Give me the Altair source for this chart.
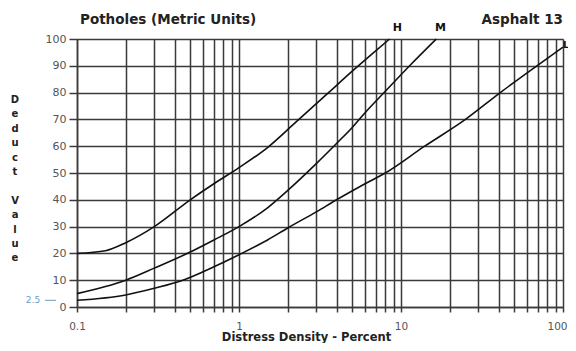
import altair as alt
import pandas as pd

# Curve readings (Distress Density %, Deduct Value)
h_density = [0.1, 0.15, 0.2, 0.3, 0.5, 0.7, 1, 1.5, 2.2, 3.5, 5, 6.5, 8.5]
h_deduct = [20, 21, 24, 30, 40, 46, 52, 59.5, 68.5, 79.5, 88, 94, 100]

m_density = [0.1, 0.2, 0.3, 0.5, 0.7, 1, 1.5, 2, 3, 4, 5, 6, 8, 11.5, 16.5]
m_deduct = [5, 10, 14.5, 20.5, 25, 30, 37, 43.5, 53.5, 61, 67, 72.5, 80.5, 90.5, 100]

l_density = [0.1, 0.2, 0.3, 0.45, 0.7, 1, 1.5, 2, 3, 4, 6, 8, 14, 25, 41, 69, 100]
l_deduct = [2.5, 4.5, 7, 10, 15, 19.5, 25, 29.5, 35.5, 40, 46, 50, 60, 70, 80, 90, 97]

x_grid_values = [0.1, 0.2, 0.3, 0.4, 0.5, 0.6, 0.7, 0.8, 0.9,
                 1, 2, 3, 4, 5, 6, 7, 8, 9,
                 10, 20, 30, 40, 50, 60, 70, 80, 90, 100]
y_grid_values = [0, 10, 20, 30, 40, 50, 60, 70, 80, 90, 100]

curve_names = ["H", "M", "L"]
label_density = [9.5, 17.5, 100]
label_deduct = [100, 100, 97]
ref_value = [2.5]

y_title_word1 = ["D", "e", "d", "u", "c", "t"]
y_title_word2 = ["V", "a", "l", "u", "e"]

rows = []
for name, xs, ys in (("H", h_density, h_deduct), ("M", m_density, m_deduct), ("L", l_density, l_deduct)):
    for a, b in zip(xs, ys):
        rows.append({"series": name, "density": a, "deduct": b})
df = pd.DataFrame(rows)

FONT = "DejaVu Sans"
GRID = "#3a3a3a"

x_scale = alt.Scale(type="log", domain=[0.1, 100], nice=False)
y_scale = alt.Scale(domain=[0, 100], nice=False)

x_axis = alt.Axis(values=x_grid_values,
                  labelExpr="(datum.value == 0.1 || datum.value == 1 || datum.value == 10 || datum.value == 100) ? datum.label : ''",
                  format="~g",
                  title="Distress Density - Percent",
                  titleFont=FONT, titleFontSize=11.5, titleFontWeight="bold", titleColor="#222",
                  titleX=229, titleY=30.5, titleBaseline="middle", titleAnchor="middle", titleAlign="center",
                  labelFont=FONT, labelFontSize=10.5, labelColor="#555", labelPadding=9,
                  labelOffset={"condition": {"test": "datum.value == 100", "value": -6}, "value": 0},
                  labelOverlap=False, labelFlush=False,
                  tickSize=5, tickColor=GRID, tickWidth=1.5,
                  grid=True, gridColor=GRID, gridWidth=1.5,
                  domainColor=GRID, domainWidth=1.5)

y_axis = alt.Axis(values=y_grid_values, title=None,
                  labelFont=FONT, labelFontSize=11, labelColor="#555", labelPadding=3,
                  labelOverlap=False,
                  tickSize=8, tickColor=GRID, tickWidth=1.5,
                  grid=True, gridColor=GRID, gridWidth=1.5,
                  domainColor=GRID, domainWidth=1.5)

lines = alt.Chart(df).mark_line(color="#111111", strokeWidth=1.6, interpolate="monotone").encode(
    x=alt.X("density:Q", scale=x_scale, axis=x_axis),
    y=alt.Y("deduct:Q", scale=y_scale, axis=y_axis),
    detail="series:N",
)

lab_df = pd.DataFrame({"series": curve_names, "density": label_density, "deduct": label_deduct})

top_labels = alt.Chart(lab_df).transform_filter("datum.series != 'L'").mark_text(
    font=FONT, fontSize=11, fontWeight="bold", color="#111", dy=-11
).encode(x=alt.X("density:Q", scale=x_scale, axis=x_axis),
         y=alt.Y("deduct:Q", scale=y_scale, axis=y_axis), text="series:N")

side_label = alt.Chart(lab_df).transform_filter("datum.series == 'L'").mark_text(
    font=FONT, fontSize=9.5, fontWeight="bold", color="#111", align="left", dx=0, dy=-2
).encode(x=alt.X("density:Q", scale=x_scale, axis=x_axis),
         y=alt.Y("deduct:Q", scale=y_scale, axis=y_axis), text="series:N")

one = pd.DataFrame({"a": [0]})
ref_df = pd.DataFrame({"deduct": ref_value})

title_left = alt.Chart(one).mark_text(
    text="Potholes (Metric Units)", font=FONT, fontSize=13.5, fontWeight="bold", color="#222",
    align="left", baseline="middle"
).encode(x=alt.value(3), y=alt.value(-19))

title_right = alt.Chart(one).mark_text(
    text="Asphalt 13", font=FONT, fontSize=13.5, fontWeight="bold", color="#222",
    align="right", baseline="middle"
).encode(x=alt.value(486), y=alt.value(-19))

ytitle1 = alt.Chart(one).mark_text(
    text=y_title_word1, font=FONT, fontSize=10, fontWeight="bold", color="#222",
    align="center", baseline="top", lineHeight=14.4
).encode(x=alt.value(-62), y=alt.value(56))

ytitle2 = alt.Chart(one).mark_text(
    text=y_title_word2, font=FONT, fontSize=10, fontWeight="bold", color="#222",
    align="center", baseline="top", lineHeight=14.4
).encode(x=alt.value(-62), y=alt.value(56 + 7 * 14.4))

ref_text = alt.Chart(ref_df).mark_text(
    text="2.5", font=FONT, fontSize=9, color="#6d9cc5", align="center", baseline="middle"
).encode(x=alt.value(-44), y=alt.Y("deduct:Q", scale=y_scale, axis=y_axis))

ref_rule = alt.Chart(ref_df).mark_rule(color="#6d9cc5", strokeWidth=1).encode(
    x=alt.value(-32), x2=alt.value(-21), y=alt.Y("deduct:Q", scale=y_scale, axis=y_axis)
)

chart = alt.layer(lines, top_labels, side_label, title_left, title_right,
                  ytitle1, ytitle2, ref_text, ref_rule).properties(
    width=486, height=268,
    autosize=alt.AutoSizeParams(type="none"),
    padding={"left": 69, "top": 31, "right": 5, "bottom": 36},
).configure_view(stroke=GRID, strokeWidth=1.5).configure(background="white")

chart.save("out.html", embed_options={"renderer": "svg", "actions": False})
